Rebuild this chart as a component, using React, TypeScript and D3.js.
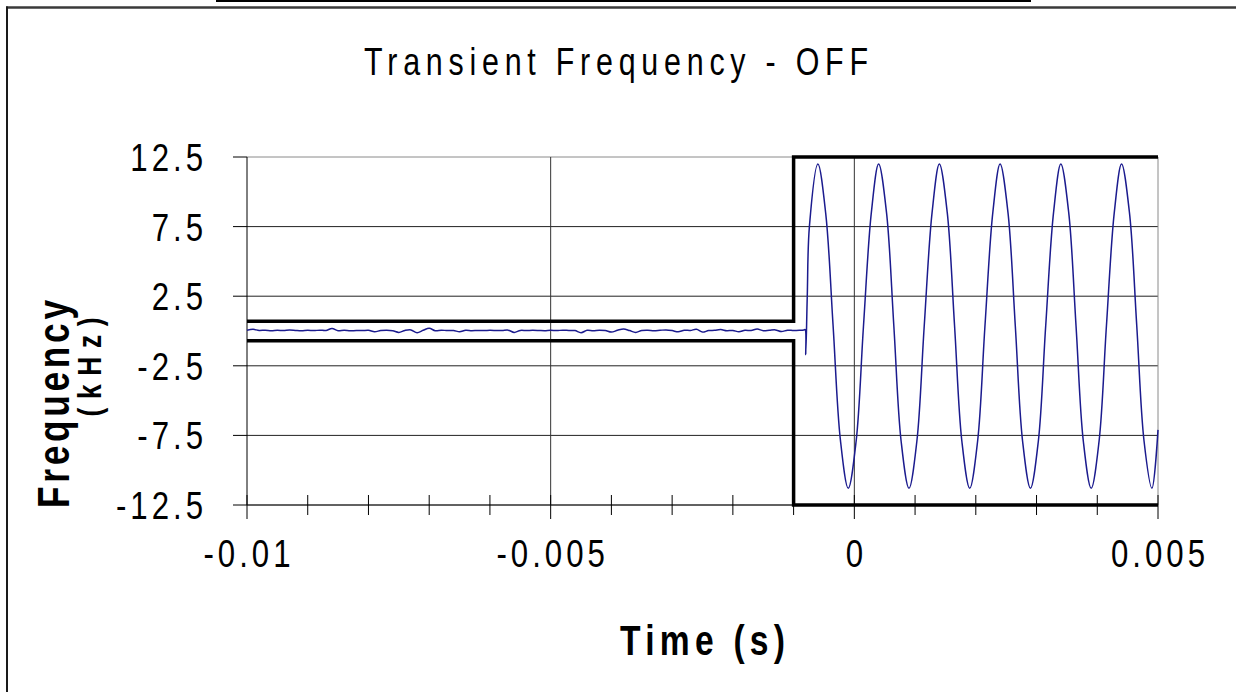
import React from 'react'
import * as d3 from 'd3'

const W = 1236
const H = 692
const PLOT = { left: 247, right: 1158, top: 157, bottom: 505 }

const TITLE = 'Transient Frequency - OFF'
const X_TITLE = 'Time (s)'
const Y_TITLE = 'Frequency'
const Y_UNIT = '(kHz)'

const X_DOMAIN = [-0.01, 0.005]
const Y_DOMAIN = [-12.5, 12.5]
const X_MAJOR = [-0.01, -0.005, 0, 0.005]
const X_MAJOR_LABELS = ['-0.01', '-0.005', '0', '0.005']
const X_MINOR = [-0.009, -0.008, -0.007, -0.006, -0.004, -0.003, -0.002, -0.001, 0.001, 0.002, 0.003, 0.004]
const Y_TICKS = [12.5, 7.5, 2.5, -2.5, -7.5, -12.5]
const Y_TICK_LABELS = ['12.5', '7.5', '2.5', '-2.5', '-7.5', '-12.5']

// limit mask (thick black lines)
const UPPER_LIMIT = [[-0.01, 0.7], [-0.001, 0.7], [-0.001, 12.5], [0.005, 12.5]]
const LOWER_LIMIT = [[-0.01, -0.7], [-0.001, -0.7], [-0.001, -12.5], [0.005, -12.5]]

// measured frequency before the switch, sampled every 0.1 ms from -10 ms
const NOISE_START = -0.01
const NOISE_STEP = 0.0001
const NOISE = [
  0.05, 0.12, 0.04, 0.06, 0.02, 0.05, 0.03, 0.07, 0.04, 0.02,
  0.05, 0.03, 0.06, 0.04, 0.18, 0.02, 0.06, 0.01, 0.04, 0.03,
  0.05, -0.05, 0.03, 0.06, 0.02, -0.1, 0.04, 0.08, -0.12, 0.05,
  0.2, 0.02, 0.06, 0.03, 0.04, -0.06, 0.05, 0.02, 0.04, 0.03,
  0.05, 0.04, 0.03, 0.06, -0.1, 0.04, 0.03, 0.05, 0.04, 0.02,
  0.05, 0.03, 0.06, 0.04, 0.03, -0.12, 0.05, 0.02, 0.06, 0.03,
  -0.08, 0.05, 0.15, 0.03, -0.1, 0.04, 0.06, 0.02, 0.05, 0.08,
  0.03, -0.06, 0.05, 0.04, 0.12, -0.08, 0.03, 0.05, 0.1, 0.02,
  0.04, -0.06, 0.05, 0.03, 0.14, 0.02, 0.05, 0.08, -0.04, 0.06,
  0.03, 0.05,
]

// measured frequency after the switch: [time s, kHz]
const WAVE = [
  [-0.00083, 0.08], [-0.00081, 0.1], [-0.0008, -1.7], [-0.000775, 2.5], [-0.00074, 7.5],
  [-0.0006, 12.0], [-0.00047, 8.4], [-0.00035, 0.4], [-0.00023, -7.8], [-0.0001, -11.3],
  [0.00003, -7.9], [0.00015, 0.3], [0.00028, 8.5], [0.0004, 12.0], [0.00053, 8.5],
  [0.00065, 0.4], [0.00077, -7.9], [0.0009, -11.3], [0.00103, -7.9], [0.00115, 0.3],
  [0.00128, 8.5], [0.0014, 12.0], [0.00153, 8.5], [0.00165, 0.4], [0.00177, -7.9],
  [0.0019, -11.3], [0.00203, -7.9], [0.00215, 0.3], [0.00228, 8.5], [0.0024, 12.0],
  [0.00253, 8.5], [0.00265, 0.4], [0.00277, -7.9], [0.0029, -11.3], [0.00303, -7.9],
  [0.00315, 0.3], [0.00328, 8.5], [0.0034, 12.0], [0.00353, 8.5], [0.00365, 0.4],
  [0.00377, -7.9], [0.0039, -11.3], [0.00403, -7.9], [0.00415, 0.3], [0.00428, 8.5],
  [0.0044, 12.0], [0.00453, 8.5], [0.00465, 0.4], [0.00477, -7.9], [0.0049, -11.3],
  [0.005, -7.1],
]

// Arial-like font squeezed horizontally to get the tall narrow look
const FONT = '"Liberation Sans", Arial, sans-serif'
const SQ = 0.8
const TICK_FS = 39
const TICK_LS = 5 // letter spacing, in squeezed units

export default function App() {
  const x = d3.scaleLinear().domain(X_DOMAIN).range([PLOT.left, PLOT.right])
  const y = d3.scaleLinear().domain(Y_DOMAIN).range([PLOT.bottom, PLOT.top])

  const signal: [number, number][] = [
    ...NOISE.map((v, i) => [NOISE_START + i * NOISE_STEP, v] as [number, number]),
    ...(WAVE as [number, number][]),
  ]

  const line = d3.line<number[]>().x(d => x(d[0])).y(d => y(d[1]))
  const smooth = d3.line<number[]>().x(d => x(d[0])).y(d => y(d[1])).curve(d3.curveCatmullRom.alpha(0.5))

  return (
    <div style={{ position: 'fixed', left: 0, top: 0, width: W, height: H, overflow: 'hidden', background: '#fff' }}>
      <style>{'html,body{margin:0;overflow:hidden;}'}</style>
      <svg width={W} height={H} style={{ display: 'block' }} fontFamily={FONT}>
        {/* leftover rule above the frame */}
        <line x1={216} x2={1031} y1={1} y2={1} stroke="#000" strokeWidth={2} />
        {/* chart frame (only top and left edges are inside the picture) */}
        <line x1={6} x2={W} y1={7.5} y2={7.5} stroke="#3a3a3a" strokeWidth={2.5} />
        <line x1={7} x2={7} y1={6.5} y2={H} stroke="#1a1a1a" strokeWidth={2} />

        <g transform={`translate(616,75) scale(${SQ},1)`}>
          <text textAnchor="middle" fontSize={38} textLength={504 / SQ} lengthAdjust="spacing">{TITLE}</text>
        </g>

        {/* gridlines */}
        {Y_TICKS.map(v => (
          <line key={'gy' + v} x1={PLOT.left} x2={PLOT.right} y1={y(v)} y2={y(v)}
            stroke={v === 12.5 ? '#8a8a8a' : '#222'} strokeWidth={1} />
        ))}
        {X_MAJOR.slice(1).map(v => (
          <line key={'gx' + v} x1={x(v)} x2={x(v)} y1={PLOT.top} y2={PLOT.bottom}
            stroke={v === 0.005 ? '#8a8a8a' : '#333'} strokeWidth={1} />
        ))}

        {/* y axis */}
        <line x1={PLOT.left} x2={PLOT.left} y1={PLOT.top} y2={PLOT.bottom} stroke="#000" strokeWidth={1} />
        {Y_TICKS.map((v, i) => (
          <g key={'yt' + v}>
            <line x1={PLOT.left - 14} x2={PLOT.left} y1={y(v)} y2={y(v)} stroke="#000" strokeWidth={1} />
            <g transform={`translate(${203 + TICK_LS * SQ},${y(v) + 14}) scale(${SQ},1)`}>
              <text textAnchor="end" fontSize={TICK_FS} letterSpacing={TICK_LS}>{Y_TICK_LABELS[i]}</text>
            </g>
          </g>
        ))}

        {/* x axis */}
        <line x1={PLOT.left} x2={PLOT.right} y1={PLOT.bottom} y2={PLOT.bottom} stroke="#333" strokeWidth={1} />
        {X_MINOR.map(v => (
          <line key={'xm' + v} x1={x(v)} x2={x(v)} y1={PLOT.bottom - 10} y2={PLOT.bottom + 10} stroke="#000" strokeWidth={1} />
        ))}
        {X_MAJOR.map((v, i) => (
          <g key={'xt' + v}>
            <line x1={x(v)} x2={x(v)} y1={PLOT.bottom - 10} y2={PLOT.bottom + 14} stroke="#000" strokeWidth={1} />
            <g transform={`translate(${x(v) + (TICK_LS * SQ) / 2},567) scale(${SQ},1)`}>
              <text textAnchor="middle" fontSize={TICK_FS} letterSpacing={TICK_LS}>{X_MAJOR_LABELS[i]}</text>
            </g>
          </g>
        ))}

        {/* measured signal */}
        <path d={smooth(signal) || ''} fill="none" stroke="#1b1b8e" strokeWidth={1.5} strokeLinejoin="round" />

        {/* limit mask */}
        <path d={line(UPPER_LIMIT) || ''} fill="none" stroke="#000" strokeWidth={3.5} />
        <path d={line(LOWER_LIMIT) || ''} fill="none" stroke="#000" strokeWidth={3.5} />

        {/* axis titles */}
        <g transform={`translate(${(PLOT.left + PLOT.right) / 2},655) scale(${SQ},1)`}>
          <text textAnchor="middle" fontSize={42} fontWeight="bold" textLength={165 / SQ} lengthAdjust="spacing">{X_TITLE}</text>
        </g>
        <g transform={`translate(69,404) rotate(-90) scale(${SQ},1)`}>
          <text textAnchor="middle" fontSize={44} fontWeight="bold" textLength={208 / SQ} lengthAdjust="spacing">{Y_TITLE}</text>
        </g>
        <g transform={`translate(101,367) rotate(-90) scale(${SQ},1)`}>
          <text textAnchor="middle" fontSize={33} fontWeight="bold" textLength={99 / SQ} lengthAdjust="spacing">{Y_UNIT}</text>
        </g>
      </svg>
    </div>
  )
}
